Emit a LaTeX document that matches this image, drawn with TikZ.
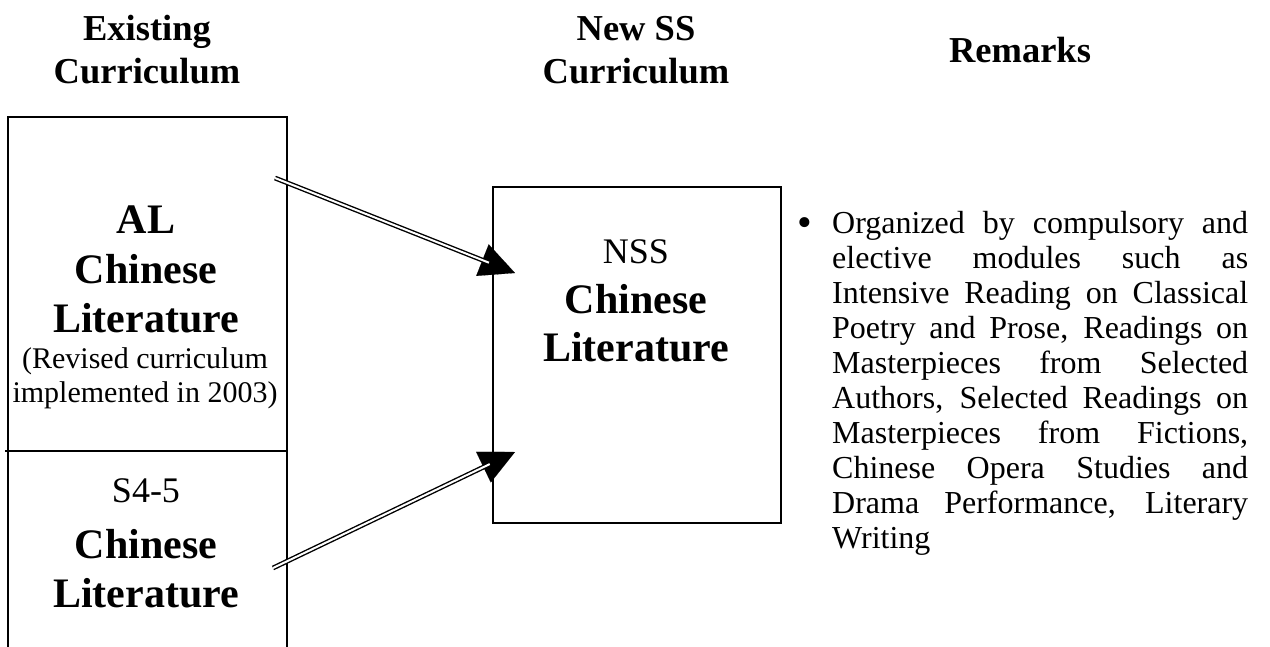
\documentclass[tikz,border=0pt]{standalone}
\usepackage{fontspec}
\setmainfont{Liberation Serif}
\usetikzlibrary{arrows.meta}
\begin{document}
\begin{tikzpicture}[x=1pt,y=-1pt,
  border/.style={line width=1.6pt},
  hdr/.style={font=\fontsize{36.5}{43}\selectfont\bfseries, anchor=base, inner sep=0pt},
  big/.style={font=\fontsize{42}{50}\selectfont\bfseries, anchor=base, inner sep=0pt},
  medium/.style={font=\fontsize{36}{40}\selectfont, anchor=base, inner sep=0pt},
  small/.style={font=\fontsize{30}{34}\selectfont, anchor=base, inner sep=0pt},
  rem/.style={font=\fontsize{32}{35}\selectfont, anchor=base west, inner sep=0pt},
  shaft/.style={line width=1.4pt, double, double distance=2pt, shorten >=28pt},
  head/.style={line width=0.1pt, -{Triangle[length=35pt,width=34pt]}}
]
\useasboundingbox (0,0) rectangle (1270,646);

% headers
\node[hdr] (h1a) at (147,40) {Existing};
\node[hdr] (h1b) at (147,83) {Curriculum};
\node[hdr] (h2a) at (636,40) {New SS};
\node[hdr] (h2b) at (636,83) {Curriculum};
\node[hdr] (h3) at (1020,62) {Remarks};

% left column box (open at the bottom)
\draw[border] (8,648) -- (8,117) -- (287,117) -- (287,648);
\draw[border] (5,451) -- (287,451);

\node[big] (al1) at (146,233) {AL};
\node[big] (al2) at (146,283) {Chinese};
\node[big] (al3) at (146,332) {Literature};
\node[small] (al4) at (145,368) {(Revised curriculum};
\node[small] (al5) at (145,402) {implemented in 2003)};

\node[medium] (s1) at (146,502) {S4-5};
\node[big] (s2) at (146,558) {Chinese};
\node[big] (s3) at (146,607) {Literature};

% new SS box
\node[draw, border, anchor=north west, minimum width=288pt, minimum height=336pt, inner sep=0pt] (nss) at (492,186) {};
\node[medium] (n1) at (636,263) {NSS};
\node[big] (n2) at (636,313) {Chinese};
\node[big] (n3) at (636,361) {Literature};

% arrows
\coordinate (a1s) at (275,178);
\coordinate (a1t) at (515,273);
\coordinate (a2s) at (273,568);
\coordinate (a2t) at (515,452);
\draw[head] (a1s) -- (a1t);
\draw[shaft] (a1s) -- (a1t);
\draw[head] (a2s) -- (a2t);
\draw[shaft] (a2s) -- (a2t);

% remarks
\node[font=\fontsize{42}{44}\selectfont, anchor=base, inner sep=0pt] (bul) at (805,236) {\textbullet};
\node[rem] (r1) at (832,233) {\makebox[416pt][s]{Organized by compulsory and}};
\node[rem] (r2) at (832,268) {\makebox[416pt][s]{elective modules such as}};
\node[rem] (r3) at (832,303) {\makebox[416pt][s]{Intensive Reading on Classical}};
\node[rem] (r4) at (832,338) {\makebox[416pt][s]{Poetry and Prose, Readings on}};
\node[rem] (r5) at (832,373) {\makebox[416pt][s]{Masterpieces from Selected}};
\node[rem] (r6) at (832,408) {\makebox[416pt][s]{Authors, Selected Readings on}};
\node[rem] (r7) at (832,443) {\makebox[416pt][s]{Masterpieces from Fictions,}};
\node[rem] (r8) at (832,478) {\makebox[416pt][s]{Chinese Opera Studies and}};
\node[rem] (r9) at (832,513) {\makebox[416pt][s]{Drama Performance, Literary}};
\node[rem] (r10) at (832,548) {Writing};
\end{tikzpicture}
\end{document}
